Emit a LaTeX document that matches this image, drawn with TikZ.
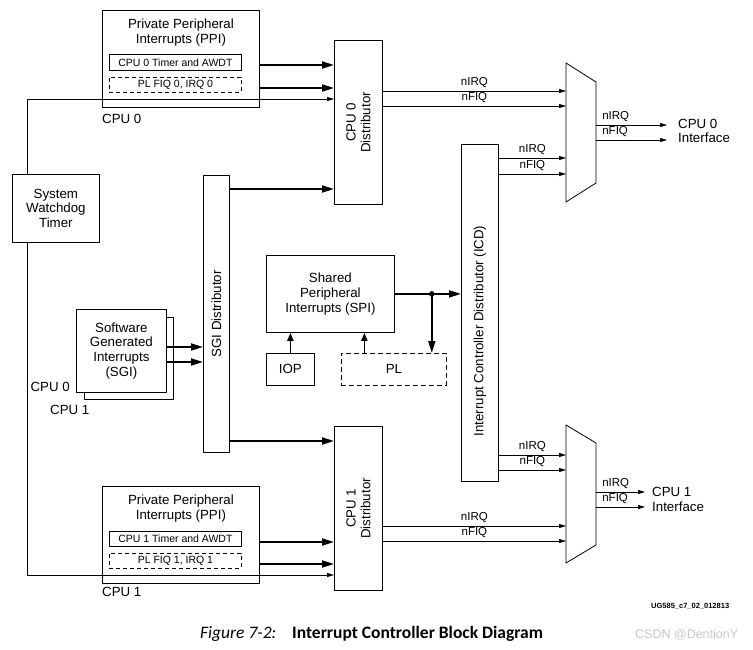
\documentclass[tikz,border=0pt]{standalone}
\usepackage{fontspec}
\setmainfont{Liberation Sans}
\newfontfamily\capfont{Carlito}
\usetikzlibrary{arrows.meta,positioning,calc}

\tikzset{
  box/.style={draw, line width=0.8pt, fill=white, inner sep=0pt},
  dbox/.style={box, dash pattern=on 4pt off 3pt},
  txt/.style={font=\fontsize{13.3}{14.7}\selectfont, align=center, inner sep=0pt},
  small/.style={font=\fontsize{10.5}{12}\selectfont},
  sig/.style={font=\fontsize{11.5}{13}\selectfont, inner sep=1pt},
  bus/.style={line width=1.8pt, -{Triangle[length=12pt,width=7pt]}},
  busS/.style={line width=1.8pt, -{Triangle[length=8pt,width=6pt]}},
  wire/.style={line width=0.7pt, -{Triangle[length=7pt,width=4pt]}},
}

\begin{document}
\begin{tikzpicture}[x=1pt, y=-1pt]
\useasboundingbox (0,0) rectangle (753,649);

%% CPU 0 side
\node[box, minimum width=157pt, minimum height=97pt, anchor=north west] (ppi0) at (102,10) {};
\node[txt, below=8.5pt of ppi0.north] {Private Peripheral\\Interrupts (PPI)};
\node[box, small, minimum width=132pt, minimum height=16pt, anchor=north west] (tmr0) at (109,54) {CPU 0 Timer and AWDT};
\node[dbox, small, minimum width=132pt, minimum height=15pt, anchor=north west] (plirq0) at (109,77) {PL FIQ 0, IRQ 0};
\node[txt, anchor=west] at (102,119) {CPU 0};

\node[box, minimum width=48pt, minimum height=164pt, anchor=north west] (dist0) at (334,40) {};
\node[txt, rotate=90] at (dist0) {CPU 0\\Distributor};

\node[box, txt, minimum width=87pt, minimum height=68pt, anchor=north west] (swt) at (12,174) {System\\Watchdog\\Timer};

%% SGI
\node[box, minimum width=26pt, minimum height=277pt, anchor=north west] (sgidist) at (203,175) {};
\node[txt, rotate=90] at (sgidist) {SGI Distributor};
\node[box, minimum width=89pt, minimum height=82pt, anchor=north west] (sgi1) at (84,317) {};
\node[box, txt, minimum width=90pt, minimum height=83pt, anchor=north west] (sgi0) at (76,309) {Software\\Generated\\Interrupts\\(SGI)};
\node[txt, anchor=east] at (70,387) {CPU 0};
\node[txt, anchor=west] at (50,410) {CPU 1};

%% SPI
\node[box, txt, minimum width=128pt, minimum height=77pt, anchor=north west] (spi) at (266,255) {Shared\\Peripheral\\Interrupts (SPI)};
\node[box, txt, minimum width=48pt, minimum height=32pt, anchor=north west] (iop) at (266,353) {IOP};
\node[box, txt, dash pattern=on 5pt off 3pt, minimum width=105pt, minimum height=32pt, anchor=north west] (pl) at (341,353) {PL};

%% ICD
\node[box, minimum width=37pt, minimum height=337pt, anchor=north west] (icd) at (461,144) {};
\node[txt, rotate=90, xshift=-18pt] at (icd) {Interrupt Controller Distributor (ICD)};

%% CPU 1 side
\node[box, minimum width=48pt, minimum height=164pt, anchor=north west] (dist1) at (334,426) {};
\node[txt, rotate=90] at (dist1) {CPU 1\\Distributor};
\node[box, minimum width=157pt, minimum height=97pt, anchor=north west] (ppi1) at (102,486) {};
\node[txt, below=8.5pt of ppi1.north] {Private Peripheral\\Interrupts (PPI)};
\node[box, small, minimum width=132pt, minimum height=15pt, anchor=north west] (tmr1) at (109,531) {CPU 1 Timer and AWDT};
\node[dbox, small, minimum width=132pt, minimum height=15pt, anchor=north west] (plirq1) at (109,553) {PL FIQ 1, IRQ 1};
\node[txt, anchor=west] at (102,592) {CPU 1};

%% muxes
\coordinate (mux0w) at (566,132);
\coordinate (mux0e) at (596,132);
\draw[line width=0.8pt] (566,63) -- (596,82) -- (596,183) -- (566,202) -- cycle;
\coordinate (mux1w) at (566,494);
\coordinate (mux1e) at (596,494);
\draw[line width=0.8pt] (566,425) -- (596,443) -- (596,545) -- (566,563) -- cycle;

\node[txt, align=left, anchor=west, inner xsep=11pt] (if0) at (667,131) {CPU 0\\Interface};
\node[txt, align=left, anchor=west, inner xsep=7pt] (if1) at (645,499.5) {CPU 1\\Interface};

%% levels
\coordinate (lv0a) at (0,65);
\coordinate (lv0b) at (0,88);
\coordinate (lvw0) at (0,99);
\coordinate (lvs0) at (0,189);
\coordinate (lvs1) at (0,441);
\coordinate (lvga) at (0,347);
\coordinate (lvgb) at (0,362);
\coordinate (lv1a) at (0,542);
\coordinate (lv1b) at (0,564);
\coordinate (lvw1) at (0,575);
\coordinate (lvd0a) at (0,91);
\coordinate (lvd0b) at (0,106);
\coordinate (lvc0a) at (0,158);
\coordinate (lvc0b) at (0,174);
\coordinate (lvo0a) at (0,125);
\coordinate (lvo0b) at (0,140);
\coordinate (lvc1a) at (0,455);
\coordinate (lvc1b) at (0,470);
\coordinate (lvd1a) at (0,526);
\coordinate (lvd1b) at (0,541);
\coordinate (lvo1a) at (0,492);
\coordinate (lvo1b) at (0,507);
\coordinate (tap) at ($(spi.east)+(37,0)$);

%% PPI and watchdog
\draw[bus] (ppi0.east |- lv0a) -- (dist0.west |- lv0a);
\draw[bus] (ppi0.east |- lv0b) -- (dist0.west |- lv0b);
\draw[wire] ([xshift=-28.5pt]swt.north) |- (dist0.west |- lvw0);
\draw[bus] (ppi1.east |- lv1a) -- (dist1.west |- lv1a);
\draw[bus] (ppi1.east |- lv1b) -- (dist1.west |- lv1b);
\draw[wire] ([xshift=-28.5pt]swt.south) |- (dist1.west |- lvw1);

%% SGI
\draw[bus] (sgi0.east |- lvga) -- (sgidist.west |- lvga);
\draw[bus] (sgi0.east |- lvgb) -- (sgidist.west |- lvgb);
\draw[bus] (sgidist.east |- lvs0) -- (dist0.west |- lvs0);
\draw[bus] (sgidist.east |- lvs1) -- (dist1.west |- lvs1);

%% SPI
\draw[busS] (iop.north) -- (iop.north |- spi.south);
\draw[busS] ([xshift=-29.5pt]pl.north) -- ([xshift=-29.5pt]pl.north |- spi.south);
\draw[bus] (spi.east) -- (spi.east -| icd.west);
\fill (tap) circle (2.8pt);
\draw[bus] (tap) -- (tap |- pl.north);

%% to CPU 0 interface
\draw[wire] (dist0.east |- lvd0a) -- node[sig, above=2.4pt] {nIRQ} (mux0w |- lvd0a);
\draw[wire] (dist0.east |- lvd0b) -- node[sig, above=2.4pt] {nFIQ} (mux0w |- lvd0b);
\draw[wire] (icd.east |- lvc0a) -- node[sig, above=2.4pt] {nIRQ} (mux0w |- lvc0a);
\draw[wire] (icd.east |- lvc0b) -- node[sig, above=2.4pt] {nFIQ} (mux0w |- lvc0b);
\draw[wire] (mux0e |- lvo0a) -- node[sig, pos=0, anchor=south west, xshift=5pt, yshift=2.4pt] {nIRQ} (if0.west |- lvo0a);
\draw[wire] (mux0e |- lvo0b) -- node[sig, pos=0, anchor=south west, xshift=5pt, yshift=2.4pt] {nFIQ} (if0.west |- lvo0b);

%% to CPU 1 interface
\draw[wire] (icd.east |- lvc1a) -- node[sig, above=2.4pt] {nIRQ} (mux1w |- lvc1a);
\draw[wire] (icd.east |- lvc1b) -- node[sig, above=2.4pt] {nFIQ} (mux1w |- lvc1b);
\draw[wire] (dist1.east |- lvd1a) -- node[sig, above=2.4pt] {nIRQ} (mux1w |- lvd1a);
\draw[wire] (dist1.east |- lvd1b) -- node[sig, above=2.4pt] {nFIQ} (mux1w |- lvd1b);
\draw[wire] (mux1e |- lvo1a) -- node[sig, pos=0, anchor=south west, xshift=5pt, yshift=2.4pt] {nIRQ} (if1.west |- lvo1a);
\draw[wire] (mux1e |- lvo1b) -- node[sig, pos=0, anchor=south west, xshift=5pt, yshift=2.4pt] {nFIQ} (if1.west |- lvo1b);

%% captions
\node[font=\bfseries\fontsize{7.5}{8}\selectfont, anchor=west, inner sep=0pt] (ugid) at (651,606) {UG585\_c7\_02\_012813};
\node[font=\capfont\itshape\fontsize{17.5}{19}\selectfont, anchor=west, inner sep=0pt] (figno) at (200,634) {Figure 7-2:};
\node[font=\capfont\bfseries\fontsize{17.5}{19}\selectfont, anchor=west, inner sep=0pt] (figttl) at (292,634) {Interrupt Controller Block Diagram};
\node[font=\fontsize{12.5}{14}\selectfont, text=black!22, anchor=west, inner sep=0pt] (wmark) at (635,635) {CSDN @DentionY};
\end{tikzpicture}
\end{document}
